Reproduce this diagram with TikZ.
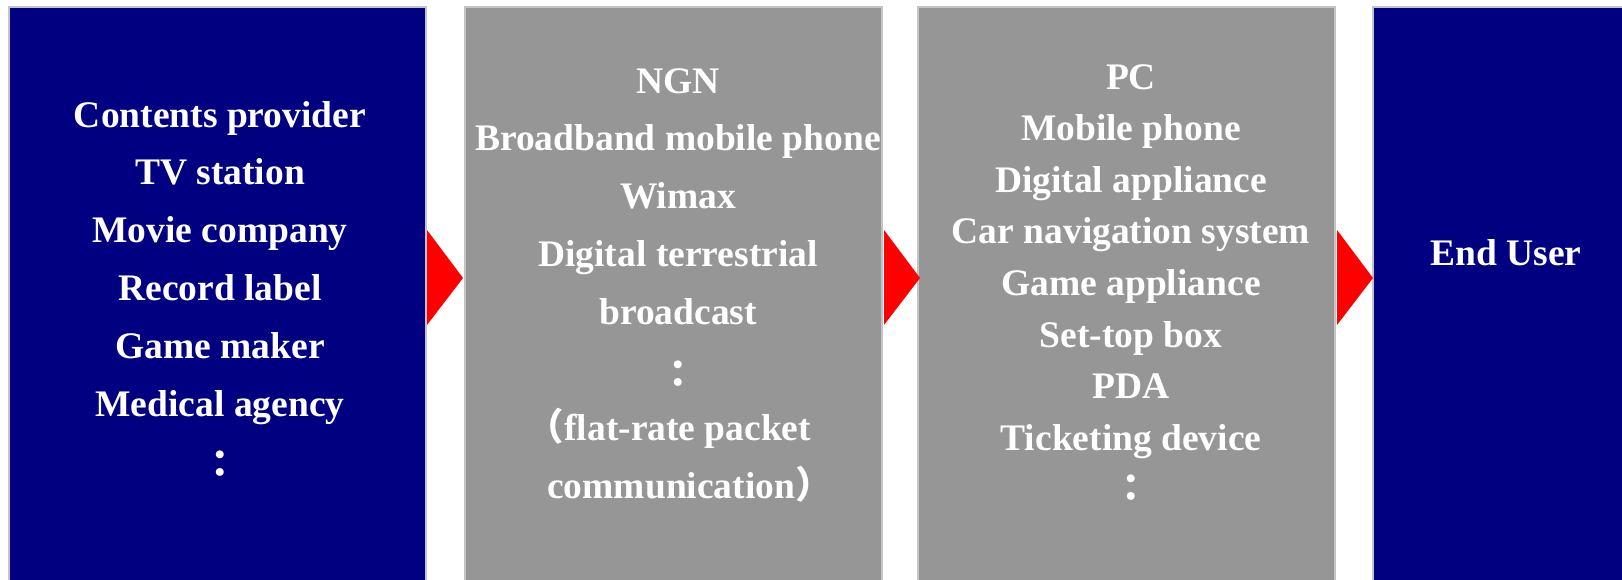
\documentclass[tikz,border=0pt]{standalone}
\usepackage{fontspec}
\setmainfont{Liberation Serif}
\newfontfamily\cjk{Noto Sans CJK JP}
\definecolor{navybox}{HTML}{000080}
\definecolor{graybox}{HTML}{969696}
\definecolor{edgegray}{HTML}{C4C4C4}
\definecolor{arrowred}{HTML}{FF0000}
\begin{document}
\begin{tikzpicture}[x=1pt,y=-1pt,
  panel/.style={draw=edgegray,line width=2pt,inner sep=0pt,outer sep=0pt},
  bluepanel/.style={panel,fill=navybox},
  graypanel/.style={panel,fill=graybox},
  txt/.style={text=white,anchor=base,inner sep=0pt,font=\bfseries\fontsize{37.5}{40}\selectfont},
  pointer/.style={fill=arrowred}]
\useasboundingbox (0,0) rectangle (1622,579);
% panels
\path[bluepanel] (9,7) rectangle (426,600);
\path[graypanel] (465,7) rectangle (882,600);
\path[graypanel] (918,7) rectangle (1335,600);
\path[bluepanel] (1373,7) rectangle (1660,600);
\coordinate (b1) at (426,278);
\coordinate (b2w) at (465,278);
\coordinate (b2) at (882,278);
\coordinate (b3w) at (918,278);
\coordinate (b3) at (1335,278);
\coordinate (b4w) at (1373,278);
% arrows
\path[pointer] ([xshift=1pt,yshift=-47pt]b1) -- ([xshift=1pt,yshift=48pt]b1) -- ([xshift=-2pt]b2w) -- cycle;
\path[pointer] ([xshift=2pt,yshift=-47pt]b2) -- ([xshift=2pt,yshift=48pt]b2) -- ([xshift=2pt]b3w) -- cycle;
\path[pointer] ([xshift=2pt,yshift=-47pt]b3) -- ([xshift=2pt,yshift=48pt]b3) -- (b4w) -- cycle;
% column 1
\node[txt] (c1a) at (220,127) {Contents provider};
\node[txt] (c1b) at (220,184.9) {TV station};
\node[txt] (c1c) at (220,242.8) {Movie company};
\node[txt] (c1d) at (220,300.7) {Record label};
\node[txt] (c1e) at (220,358.6) {Game maker};
\node[txt] (c1f) at (220,416.5) {Medical agency};
\node[txt] (c1g) at (220,477.5) {\cjk ：};
% column 2
\node[txt] (c2a) at (678,93) {NGN};
\node[txt] (c2b) at (678,150.9) {Broadband mobile phone};
\node[txt] (c2c) at (678,208.8) {Wimax};
\node[txt] (c2d) at (678,266.7) {Digital terrestrial};
\node[txt] (c2e) at (678,324.6) {broadcast};
\node[txt] (c2f) at (678,387.5) {\cjk ：};
\node[txt] (c2g) at (669,440.4) {{\cjk （}flat-rate packet};
\node[txt] (c2h) at (690,498.3) {communication{\cjk ）}};
% column 3
\node[txt] (c3a) at (1131,89) {PC};
\node[txt] (c3b) at (1131,140.6) {Mobile phone};
\node[txt] (c3c) at (1131,192.2) {Digital appliance};
\node[txt] (c3d) at (1131,243.8) {Car navigation system};
\node[txt] (c3e) at (1131,295.4) {Game appliance};
\node[txt] (c3f) at (1131,347) {Set-top box};
\node[txt] (c3g) at (1131,398.6) {PDA};
\node[txt] (c3h) at (1131,450.2) {Ticketing device};
\node[txt] (c3i) at (1131,501.8) {\cjk ：};
% column 4
\node[txt] (c4a) at (1506,265) {End User};
\end{tikzpicture}
\end{document}
